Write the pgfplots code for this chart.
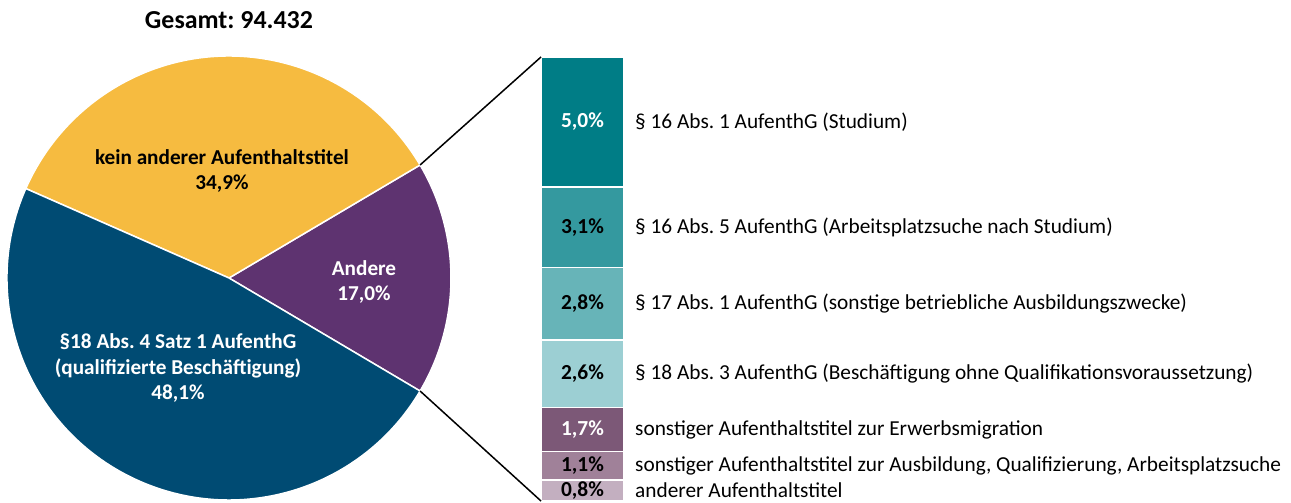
\documentclass[border=0pt]{standalone}
\usepackage{pgfplots}
\pgfplotsset{compat=1.18}
\usepackage{fontspec}
\setmainfont{Carlito}
\frenchspacing
\definecolor{cYel}{HTML}{F6BB40}
\definecolor{cPur}{HTML}{5E3370}
\definecolor{cBlu}{HTML}{004B73}
\definecolor{cT1}{HTML}{007D86}
\definecolor{cT2}{HTML}{34999F}
\definecolor{cT3}{HTML}{67B4B8}
\definecolor{cT4}{HTML}{9CCFD3}
\definecolor{cM1}{HTML}{7C5877}
\definecolor{cM2}{HTML}{A08199}
\definecolor{cM3}{HTML}{C3AFC0}
\tikzset{pct/.style={font=\fontsize{21.5}{24}\selectfont\bfseries},
  txt/.style={font=\fontsize{21.4}{24}\selectfont, anchor=west, xshift=11bp, inner sep=0pt},
  pl/.style={font=\fontsize{21.3}{26}\selectfont\bfseries, align=center}}
\begin{document}
\begin{tikzpicture}
\path[use as bounding box] (0,0) rectangle (1291bp,503bp);
\pgfmathsetmacro\vAnd{17.0}
\pgfmathsetmacro\vKein{34.9}
\pgfmathsetmacro\vQual{48.1}
\pgfmathsetmacro\aA{-\vAnd*3.6/2}
\pgfmathsetmacro\aB{\aA+\vAnd*3.6}
\pgfmathsetmacro\aC{\aB+\vKein*3.6}
\pgfmathsetmacro\aD{\aC+\vQual*3.6}
\begin{axis}[name=pie, at={(7bp,3bp)}, anchor=south west,
  scale only axis, width=444bp, height=444bp,
  xmin=-1, xmax=1, ymin=-1, ymax=1, hide axis, clip=false]
  \fill[cPur, draw=white, line width=1.5bp] (axis cs:0,0) -- ++(\aA:222bp) arc[start angle=\aA, end angle=\aB, radius=222bp] -- cycle;
  \fill[cYel, draw=white, line width=1.5bp] (axis cs:0,0) -- ++(\aB:222bp) arc[start angle=\aB, end angle=\aC, radius=222bp] -- cycle;
  \fill[cBlu, draw=white, line width=1.5bp] (axis cs:0,0) -- ++(\aC:222bp) arc[start angle=\aC, end angle=\aD, radius=222bp] -- cycle;
  \path (axis cs:0,0) ++(\aB:222bp) coordinate (p1);
  \path (axis cs:0,0) ++(\aA:222bp) coordinate (p0);
\end{axis}
\begin{axis}[name=bar, at={(541bp,2bp)}, anchor=south west,
  scale only axis, width=83bp, height=444bp,
  xmin=-0.5, xmax=0.5, ymin=0, ymax=17.1, hide axis, clip=false,
  ybar stacked, bar width=1]
  \addplot[fill=cM3, draw=white, line width=1.5bp] coordinates {(0,0.8)};
  \addplot[fill=cM2, draw=white, line width=1.5bp] coordinates {(0,1.1)};
  \addplot[fill=cM1, draw=white, line width=1.5bp] coordinates {(0,1.7)};
  \addplot[fill=cT4, draw=white, line width=1.5bp] coordinates {(0,2.6)};
  \addplot[fill=cT3, draw=white, line width=1.5bp] coordinates {(0,2.8)};
  \addplot[fill=cT2, draw=white, line width=1.5bp] coordinates {(0,3.1)};
  \addplot[fill=cT1, draw=white, line width=1.5bp] coordinates {(0,5.0)};
  \coordinate (b1) at (axis cs:-0.5,17.1);
  \coordinate (b0) at (axis cs:-0.5,0);
  \coordinate (m1) at (axis cs:0,0.4);
  \coordinate (m2) at (axis cs:0,1.35);
  \coordinate (m3) at (axis cs:0,2.75);
  \coordinate (m4) at (axis cs:0,4.9);
  \coordinate (m5) at (axis cs:0,7.6);
  \coordinate (m6) at (axis cs:0,10.55);
  \coordinate (m7) at (axis cs:0,14.6);
  \node[txt] at (axis cs:0.5,0.4) {anderer Aufenthaltstitel};
  \node[txt] at (axis cs:0.5,1.35) {sonstiger Aufenthaltstitel zur Ausbildung, Qualifizierung, Arbeitsplatzsuche};
  \node[txt] at (axis cs:0.5,2.75) {sonstiger Aufenthaltstitel zur Erwerbsmigration};
  \node[txt] at (axis cs:0.5,4.9) {§ 18 Abs. 3 AufenthG (Beschäftigung ohne Qualifikationsvoraussetzung)};
  \node[txt] at (axis cs:0.5,7.6) {§ 17 Abs. 1 AufenthG (sonstige betriebliche Ausbildungszwecke)};
  \node[txt] at (axis cs:0.5,10.55) {§ 16 Abs. 5 AufenthG (Arbeitsplatzsuche nach Studium)};
  \node[txt] at (axis cs:0.5,14.6) {§ 16 Abs. 1 AufenthG (Studium)};
\end{axis}
\node[pct, text=black] at (m1) {0,8\%};
\node[pct, text=black] at (m2) {1,1\%};
\node[pct, text=white] at (m3) {1,7\%};
\node[pct, text=black] at (m4) {2,6\%};
\node[pct, text=black] at (m5) {2,8\%};
\node[pct, text=black] at (m6) {3,1\%};
\node[pct, text=white] at (m7) {5,0\%};
\draw[black, line width=1.5bp] (p1) -- (b1);
\draw[black, line width=1.5bp] (p0) -- (b0);
\node[font=\fontsize{26}{30}\selectfont\bfseries] at (229bp,483bp) {Gesamt: 94.432};
\node[pl] at (222bp,332bp) {kein anderer Aufenthaltstitel\\34,9\%};
\node[pl, text=white] at (364bp,221bp) {Andere\\17,0\%};
\node[pl, text=white] at (178bp,135bp) {§18 Abs. 4 Satz 1 AufenthG\\(qualifizierte Beschäftigung)\\48,1\%};
\end{tikzpicture}
\end{document}
